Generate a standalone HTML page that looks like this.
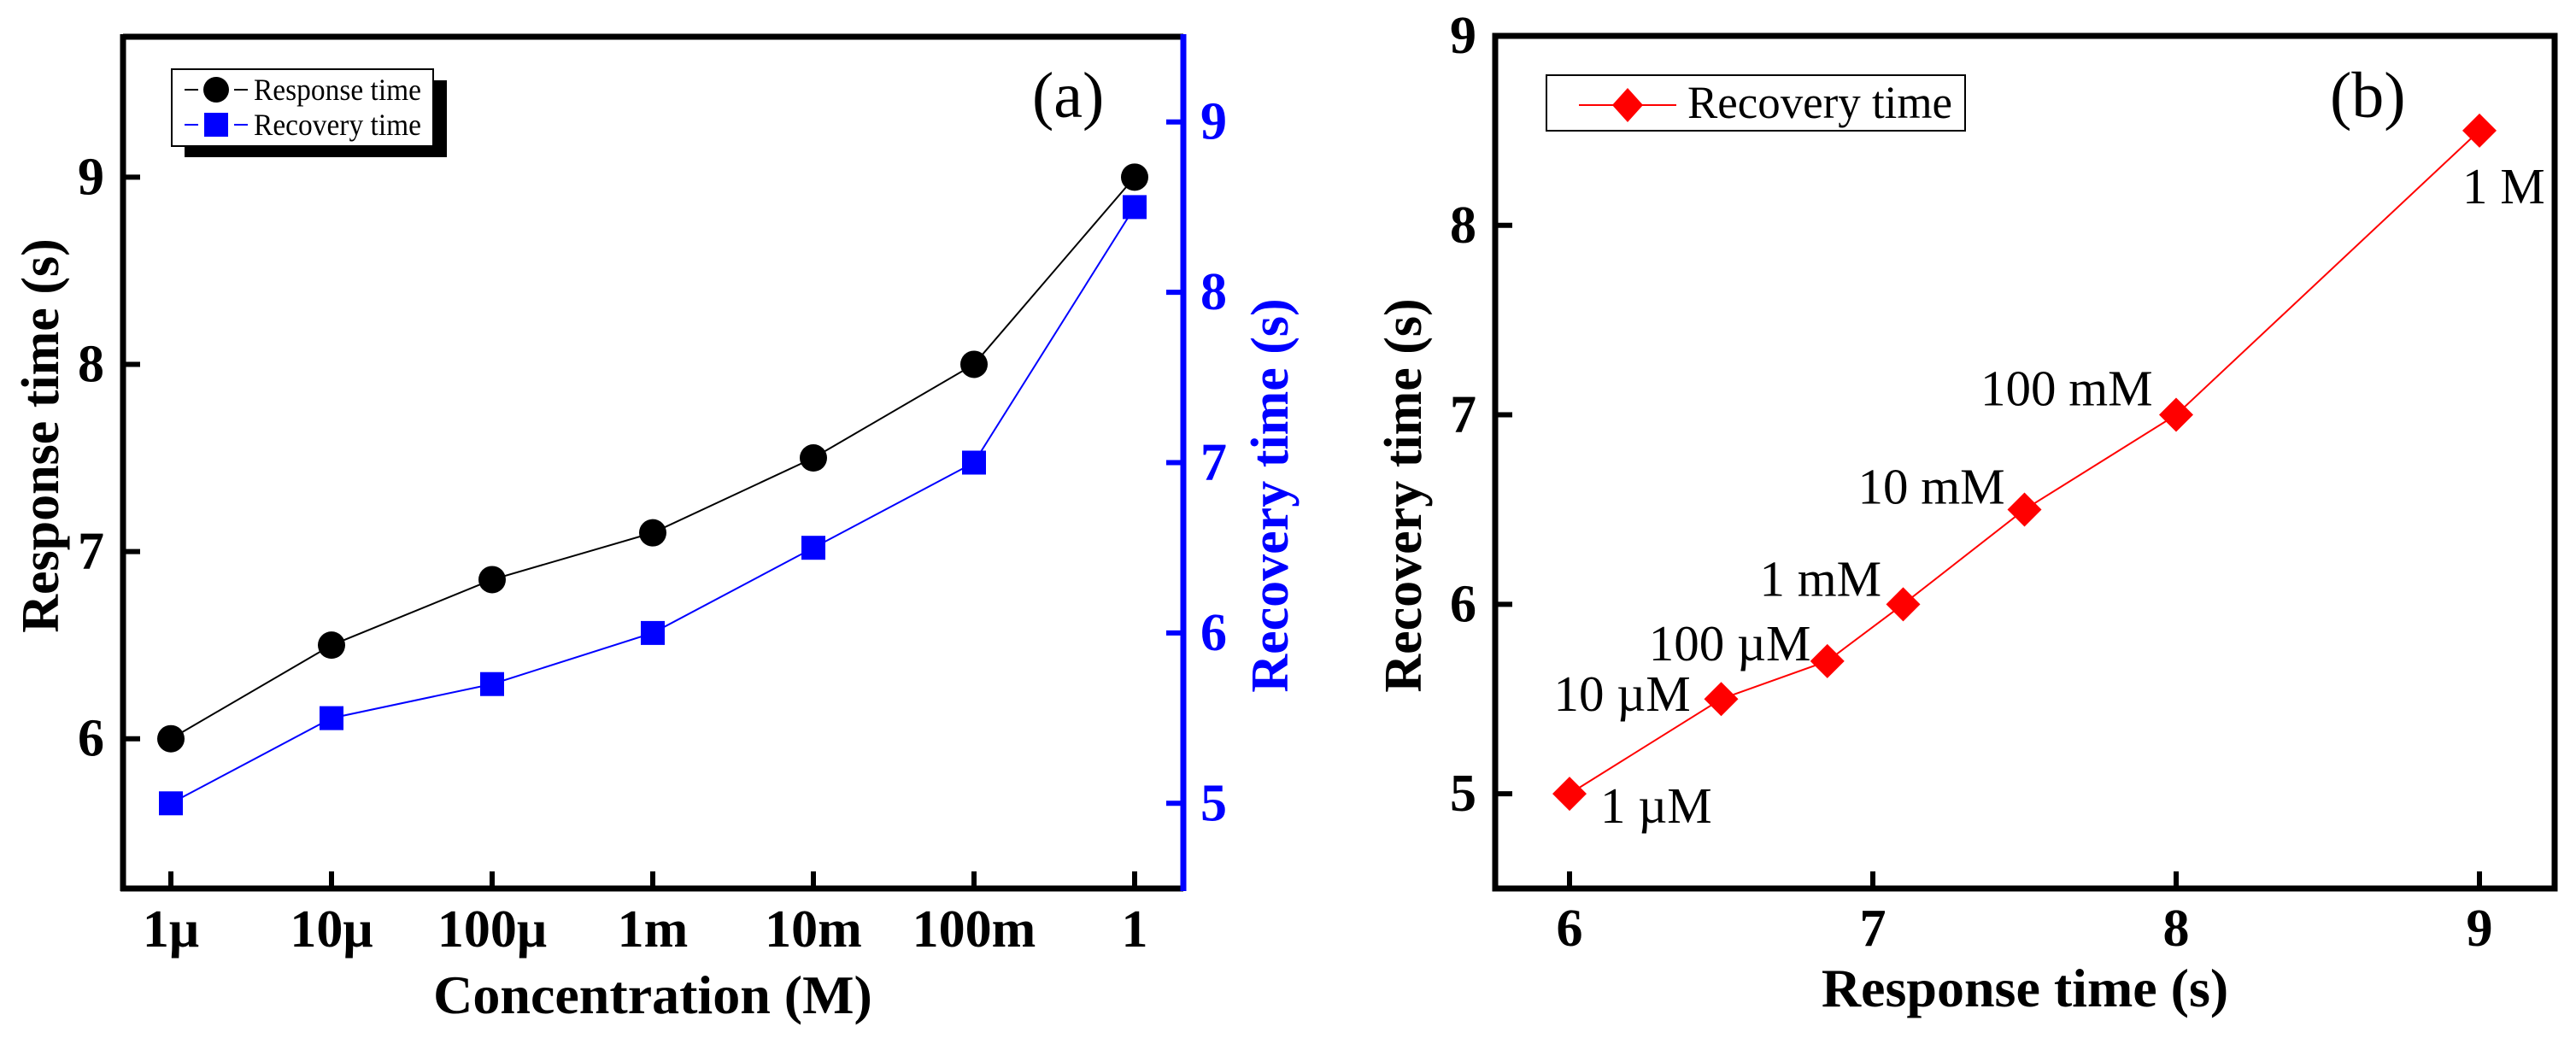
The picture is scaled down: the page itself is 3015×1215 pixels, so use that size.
<!DOCTYPE html>
<html><head><meta charset="utf-8">
<style>
html,body{margin:0;padding:0;background:#fff;}
svg{display:block;font-family:"Liberation Serif","Times New Roman",serif;}
</style></head>
<body>
<svg id="fig" width="3015" height="1215" viewBox="0 0 3015 1215"></svg>
<script>
const categories = ["1\u03bc","10\u03bc","100\u03bc","1m","10m","100m","1"];
const responseTimes = [6, 6.5, 6.85, 7.1, 7.5, 8, 9];
const recoveryTimes = [5, 5.5, 5.7, 6, 6.5, 7, 8.5];
const leftTicks = [6, 7, 8, 9];
const rightTicks = [5, 6, 7, 8, 9];
const bXTicks = [6, 7, 8, 9];
const bYTicks = [5, 6, 7, 8, 9];
const pointLabels = ["1 \u00b5M","10 \u00b5M","100 \u00b5M","1 mM","10 mM","100 mM","1 M"];

const NS = "http://www.w3.org/2000/svg";
const svg = document.getElementById("fig");
function mk(tag, attrs, parent, text){
  const e = document.createElementNS(NS, tag);
  for (const k in attrs) e.setAttribute(k, attrs[k]);
  if (text !== undefined) e.textContent = text;
  (parent || svg).appendChild(e);
  return e;
}

// ---------- Panel (a) ----------
const A = {l:144, r:1385, t:43, b:1040};
const ax = i => 200 + i*188;
const ayL = v => 1040 - (v - 5.2) / (9.75 - 5.2) * (1040 - 43);
const ayR = v => 1040 - (v - 4.5) / (9.5 - 4.5) * (1040 - 43);
const gA = mk("g", {});



const respPts = responseTimes.map((v,i)=>ax(i)+","+ayL(v)).join(" ");
const respLine = mk("polyline",{points:respPts,fill:"none",stroke:"#000","stroke-width":2}, gA);


const recPts = recoveryTimes.map((v,i)=>ax(i)+","+ayR(v)).join(" ");
const recLine = mk("polyline",{points:recPts,fill:"none",stroke:"#0000ff","stroke-width":2}, gA);


responseTimes.forEach((v,i)=>{
  const c = mk("circle",{cx:ax(i),cy:ayL(v),r:16,fill:"#000"}, gA);
  
  
});
recoveryTimes.forEach((v,i)=>{
  const s = mk("rect",{x:ax(i)-14,y:ayR(v)-14,width:28,height:28,fill:"#0000ff"}, gA);
  
  
});

mk("line",{x1:A.l,y1:A.t,x2:A.r,y2:A.t,stroke:"#000","stroke-width":7}, gA);
mk("line",{x1:A.l,y1:A.t-3,x2:A.l,y2:A.b+3,stroke:"#000","stroke-width":7}, gA);
mk("line",{x1:A.l-3,y1:A.b,x2:A.r,y2:A.b,stroke:"#000","stroke-width":7}, gA);
const rAx = mk("line",{x1:A.r,y1:A.t-3,x2:A.r,y2:A.b+3,stroke:"#0000ff","stroke-width":7}, gA);



categories.forEach((c,i)=>{
  mk("line",{x1:ax(i),y1:A.b,x2:ax(i),y2:A.b-20,stroke:"#000","stroke-width":6}, gA);
  const t = mk("text",{x:ax(i),y:1108,"text-anchor":"middle","font-size":62,"font-weight":"bold"}, gA, c);
  
  
});
leftTicks.forEach(v=>{
  mk("line",{x1:A.l,y1:ayL(v),x2:A.l+20,y2:ayL(v),stroke:"#000","stroke-width":6}, gA);
  const t = mk("text",{x:122,y:ayL(v)+20,"text-anchor":"end","font-size":62,"font-weight":"bold"}, gA, v);
  
  
});
rightTicks.forEach(v=>{
  mk("line",{x1:A.r,y1:ayR(v),x2:A.r-20,y2:ayR(v),stroke:"#0000ff","stroke-width":6}, gA);
  const t = mk("text",{x:1405,y:ayR(v)+20,"font-size":62,"font-weight":"bold",fill:"#0000ff"}, gA, v);
  
  
});
const xtA = mk("text",{x:764,y:1186,"text-anchor":"middle","font-size":64,"font-weight":"bold"}, gA, "Concentration (M)");


const ytA = mk("text",{x:0,y:0,"text-anchor":"middle","font-size":62,"font-weight":"bold",transform:"translate(68,510) rotate(-90)"}, gA, "Response time (s)");


const ytR = mk("text",{x:0,y:0,"text-anchor":"middle","font-size":62,"font-weight":"bold",fill:"#0000ff",transform:"translate(1507,580) rotate(-90)"}, gA, "Recovery time (s)");


const la = mk("text",{x:1208,y:137,"font-size":76}, gA, "(a)");



const legA = mk("g",{}, gA);


mk("rect",{x:216,y:94,width:307,height:90,fill:"#000"}, legA);
mk("rect",{x:201,y:81,width:306,height:90,fill:"#fff",stroke:"#000","stroke-width":2}, legA);
const le1 = mk("g",{}, legA);


mk("line",{x1:216,y1:105,x2:232,y2:105,stroke:"#000","stroke-width":2}, le1);
mk("line",{x1:274,y1:105,x2:290,y2:105,stroke:"#000","stroke-width":2}, le1);
mk("circle",{cx:253,cy:105,r:15,fill:"#000"}, le1);
mk("text",{x:297,y:117,"font-size":36,textLength:196,lengthAdjust:"spacingAndGlyphs"}, le1, "Response time");
const le2 = mk("g",{}, legA);


mk("line",{x1:216,y1:146,x2:232,y2:146,stroke:"#0000ff","stroke-width":2}, le2);
mk("line",{x1:274,y1:146,x2:290,y2:146,stroke:"#0000ff","stroke-width":2}, le2);
mk("rect",{x:239,y:132,width:28,height:28,fill:"#0000ff"}, le2);
mk("text",{x:297,y:158,"font-size":36,textLength:196,lengthAdjust:"spacingAndGlyphs"}, le2, "Recovery time");

// ---------- Panel (b) ----------
const B = {l:1750, r:2990, t:42, b:1040};
const bx = v => 1837 + (v - 6) * 355;
const by = v => 1040 - (v - 4.5) / (9 - 4.5) * (1040 - 42);
const gB = mk("g", {});


const bPts = responseTimes.map((v,i)=>bx(v)+","+by(recoveryTimes[i])).join(" ");
const bl = mk("polyline",{points:bPts,fill:"none",stroke:"#ff0000","stroke-width":2}, gB);


responseTimes.forEach((v,i)=>{
  const x = bx(v), y = by(recoveryTimes[i]);
  const d = mk("polygon",{points:`${x},${y-20} ${x+20},${y} ${x},${y+20} ${x-20},${y}`,fill:"#ff0000"}, gB);
  
  
});
const lblOffX = [36, -196, -209, -168, -195, -229, -20];
const lblOffY = [34, 14, -1, -10, -7, -11, 85];
pointLabels.forEach((s,i)=>{
  const t = mk("text",{x:bx(responseTimes[i])+lblOffX[i],y:by(recoveryTimes[i])+lblOffY[i],"font-size":59}, gB, s);
  
  
});
mk("rect",{x:B.l,y:B.t,width:B.r-B.l,height:B.b-B.t,fill:"none",stroke:"#000","stroke-width":7}, gB);
bXTicks.forEach(v=>{
  mk("line",{x1:bx(v),y1:B.b,x2:bx(v),y2:B.b-20,stroke:"#000","stroke-width":6}, gB);
  const t = mk("text",{x:bx(v),y:1107,"text-anchor":"middle","font-size":62,"font-weight":"bold"}, gB, v);
  
  
});
bYTicks.forEach(v=>{
  mk("line",{x1:B.l,y1:by(v),x2:B.l+20,y2:by(v),stroke:"#000","stroke-width":6}, gB);
  const t = mk("text",{x:1728,y:by(v)+20,"text-anchor":"end","font-size":62,"font-weight":"bold"}, gB, v);
  
  
});
const xtB = mk("text",{x:2370,y:1178,"text-anchor":"middle","font-size":64,"font-weight":"bold"}, gB, "Response time (s)");


const ytB = mk("text",{x:0,y:0,"text-anchor":"middle","font-size":62,"font-weight":"bold",transform:"translate(1663,580) rotate(-90)"}, gB, "Recovery time (s)");


const lb = mk("text",{x:2727,y:137,"font-size":76}, gB, "(b)");


const legB = mk("g",{}, gB);


mk("rect",{x:1810,y:88,width:490,height:65,fill:"#fff",stroke:"#000","stroke-width":2}, legB);
mk("line",{x1:1848,y1:123,x2:1962,y2:123,stroke:"#ff0000","stroke-width":2}, legB);
mk("polygon",{points:"1905,103 1923,123 1905,143 1887,123",fill:"#ff0000"}, legB);
mk("text",{x:1975,y:138,"font-size":54,textLength:310,lengthAdjust:"spacingAndGlyphs"}, legB, "Recovery time");
</script>
</body></html>
